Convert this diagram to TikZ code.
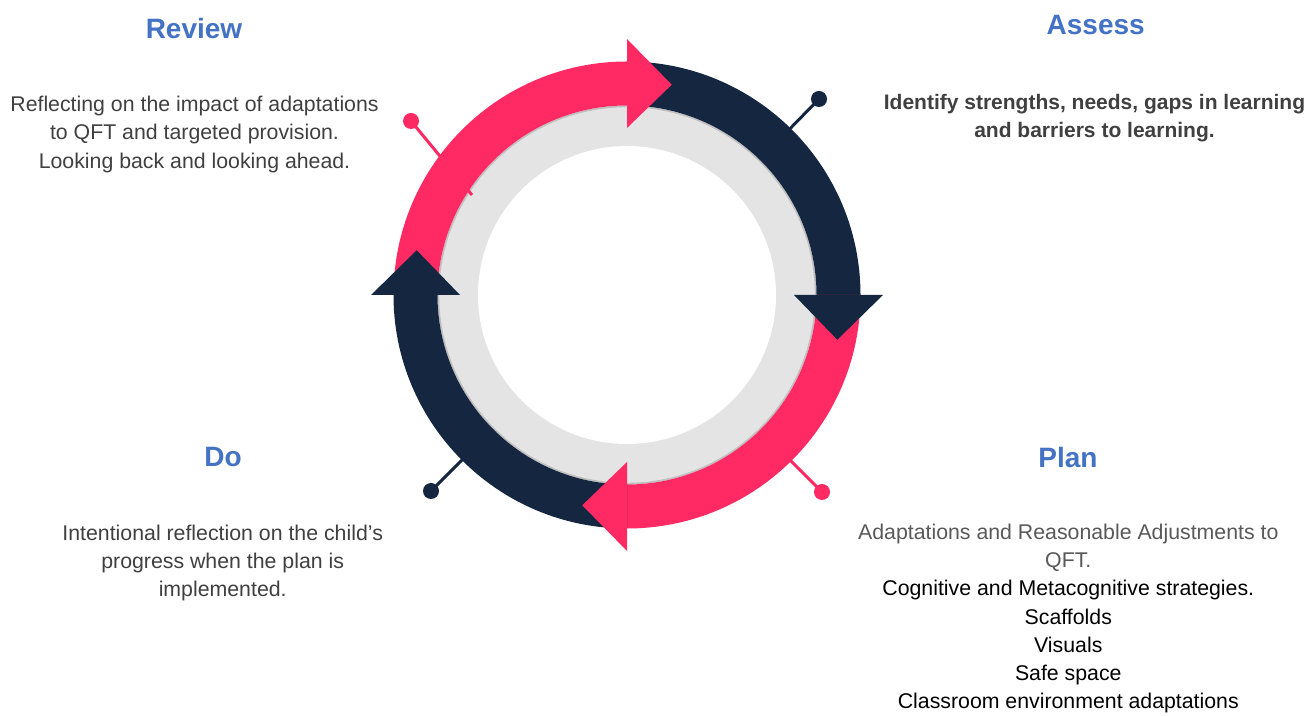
\documentclass[tikz,border=0pt]{standalone}
\usepackage{fontspec}
\setmainfont{Liberation Sans}
\definecolor{cnavy}{RGB}{20,38,64}
\definecolor{cpink}{RGB}{255,42,100}
\definecolor{cring}{RGB}{228,228,228}
\definecolor{ctitle}{RGB}{68,114,196}
\definecolor{ctext}{RGB}{64,64,64}
\definecolor{cplan}{RGB}{89,89,89}
\begin{document}
\begin{tikzpicture}[x=1pt,y=1pt,
  titletext/.style={anchor=base, inner sep=0pt, text=ctitle, font=\fontsize{28}{34}\selectfont\bfseries},
  bodytext/.style={anchor=base, inner sep=0pt, align=center, text=ctext, font=\fontsize{21.3}{28.3}\selectfont},
  pinline/.style={line width=3pt},
  pindot/.style={radius=8}]
\useasboundingbox (0,0) rectangle (1312,715);
\fill[white] (0,0) rectangle (1312,715);
\coordinate (C) at (627,420);
% pin coordinates
\coordinate (pTR) at (819,616);
\coordinate (pTRe) at (776,572);
\coordinate (pBL) at (431,224);
\coordinate (pBLe) at (478,271);
\coordinate (pBR) at (822,223);
\coordinate (pBRe) at (776,269);
\coordinate (pTL) at (411,594);
\coordinate (pTLe) at (472,520);
% ring
\begin{scope}[shift={(C)}]
  \fill[cring] (0,0) circle[radius=189.5];
  \fill[white] (0,0) circle[radius=149];
  \draw[black!25, line width=1.6pt] (0,0) circle[radius=188.6];
\end{scope}
% pin lines under the bands
\draw[pinline, cnavy] (pTR) -- (pTRe);
\draw[pinline, cnavy] (pBL) -- (pBLe);
\draw[pinline, cpink] (pBR) -- (pBRe);
\draw[pinline, cpink] (pTL) -- (pTLe);
% bands
\begin{scope}[shift={(C)}]
  \fill[cpink] (180:233.5) arc[start angle=180,end angle=90,radius=233.5] -- (90:189.5) arc[start angle=90,end angle=180,radius=189.5] -- cycle;
  \fill[cnavy] (90:233.5) arc[start angle=90,end angle=0,radius=233.5] -- (0:189.5) arc[start angle=0,end angle=90,radius=189.5] -- cycle;
  \fill[cpink] (0:233.5) arc[start angle=0,end angle=-90,radius=233.5] -- (-90:189.5) arc[start angle=-90,end angle=0,radius=189.5] -- cycle;
  \fill[cnavy] (270:233.5) arc[start angle=270,end angle=180,radius=233.5] -- (180:189.5) arc[start angle=180,end angle=270,radius=189.5] -- cycle;
  % heads
  \fill[cpink] (90:167) -- (90:256) -- (78:215) -- cycle;
  \fill[cnavy] (0:167) -- (0:256) -- (-12:215) -- cycle;
  \fill[cpink] (270:167) -- (270:256) -- (258:215) -- cycle;
  \fill[cnavy] (180:167) -- (180:256) -- (168:215) -- cycle;
\end{scope}
% pin dots
\fill[cnavy] (pTR) circle[pindot];
\fill[cnavy] (pBL) circle[pindot];
\fill[cpink] (pBR) circle[pindot];
\fill[cpink] (pTL) circle[pindot];
% texts (base anchor = baseline of the last line)
\node[titletext] (reviewT) at (194,676) {Review};
\node[bodytext] (reviewB) at (194.5,546.7) {Reflecting on the impact of adaptations\\to QFT and targeted provision.\\Looking back and looking ahead.};
\node[titletext] (assessT) at (1095.7,680) {Assess};
\node[bodytext, font=\fontsize{21}{27.3}\selectfont\bfseries] (assessB) at (1094.5,577.7) {Identify strengths, needs, gaps in learning\\and barriers to learning.};
\node[titletext] (planT) at (1068,247) {Plan};
\node[bodytext, text=black] (planB) at (1068.3,6) {\textcolor{cplan}{Adaptations and Reasonable Adjustments to}\\\textcolor{cplan}{QFT.}\\Cognitive and Metacognitive strategies.\\Scaffolds\\Visuals\\Safe space\\Classroom environment adaptations};
\node[titletext] (doT) at (223,248) {Do};
\node[bodytext] (doB) at (222.7,118.3) {Intentional reflection on the child’s\\progress when the plan is\\implemented.};
\end{tikzpicture}
\end{document}
